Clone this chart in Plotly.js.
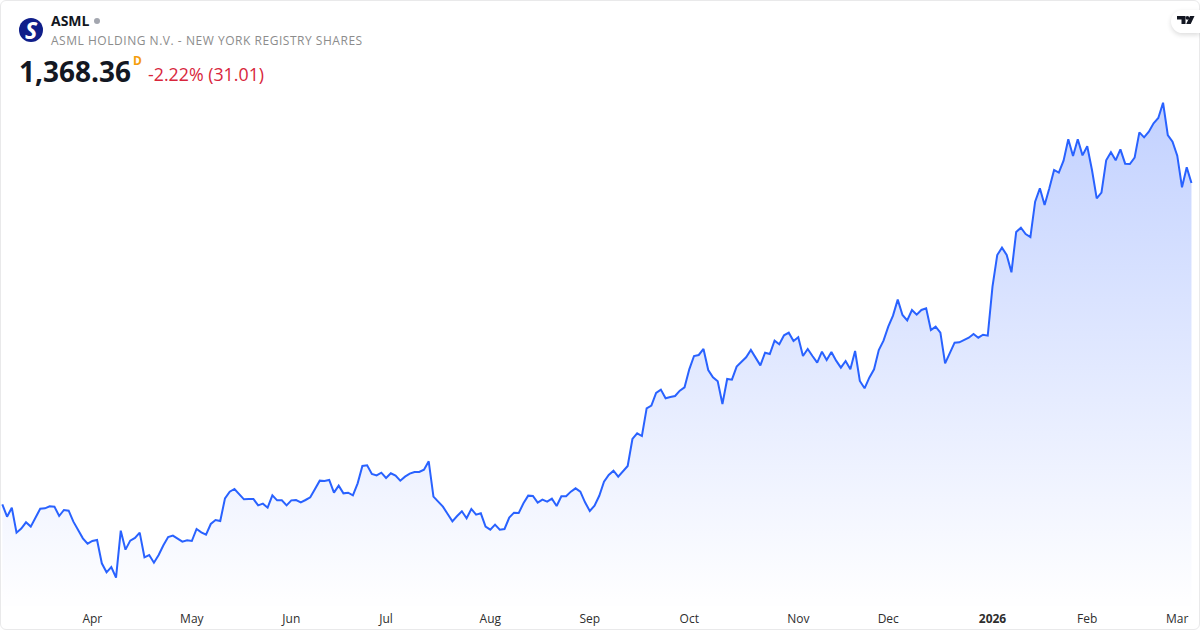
<!DOCTYPE html>
<html>
<head>
<meta charset="utf-8">
<script src="https://cdn.plot.ly/plotly-3.0.1.min.js"></script>
<style>
html,body{margin:0;padding:0;background:#fff;width:1200px;height:630px;overflow:hidden}
#card{position:absolute;left:0;top:0;width:1198px;height:628px;border:1px solid #e9e9ea;border-radius:6px}
#chart{position:absolute;left:0;top:0;width:1200px;height:630px}
#pill{position:absolute;left:1171px;top:10px;width:29px;height:23px;background:#fff;border-radius:12px 0 0 12px;box-shadow:0 2px 5px rgba(0,0,0,.14)}
#tv{position:absolute;left:0;top:0;pointer-events:none}
.annotation[data-index="2"] text{letter-spacing:.53px}
</style>
</head>
<body>
<div id="card"></div>
<div id="chart"></div>
<div id="pill"></div>
<svg id="tv" width="1200" height="630">
<path d="M1177 16h8.5v8h-4v-4.5h-4.5z M1190 16h4.5l-3.8 8h-4.5z" fill="#131722"/>
<circle cx="1187.4" cy="17.8" r="1.9" fill="#131722"/>
</svg>
<script>
var prices = [
732.1,707.7,725.5,676,684,696.5,688,706.4,723.5,724.2,728.2,727.5,709,720.9,719.6,697.8,681.3,664.8,654.2,659.5,
661.5,615.3,597.5,608,586.9,680,642.4,660.2,665.5,676,627.2,631.8,616.6,631.8,650.9,667.4,670.1,664.8,658.2,660.8,
659.5,683.3,676.7,672,693.2,701.1,699.1,744,757.2,762.5,751.9,742,742.7,742.7,730.1,733.4,725.5,750,740,740,
730.1,740,740.7,
736.1,740.7,746,762.5,779,778.3,780.3,755.2,769,753.9,755.2,749.9,773.7,808,809.3,792.2,789.5,794.8,784.3,793.5,
788.9,779,786.9,792.8,796.1,796.1,800.8,817.3,747.3,737.4,727.5,713,698.5,709,718.3,704.4,722.9,711.7,714.3,687.9,
682,691.9,682,683.3,705.7,715.6,715,734.1,749.3,748.6,735.4,741.4,737.4,743.3,728.8,748,748,757.2,763.8,757.2,
736.1,718.9,729.5,749,
777,790.2,798.8,786.9,796.8,808,861.5,872.7,867.4,922.2,927.5,952.6,959.2,942,944.6,946.6,957.2,963.8,999.4,1025.8,
1027.8,1039.7,998.1,983.6,975.7,930.8,980.3,979,1004.7,1014.6,1023.2,1037.7,1022.5,1007.3,1032.4,1029.8,1056.2,1048.9,1066.7,1072,
1055.5,1062.8,1025.8,1039.7,1025.8,1012.6,1034.4,1017.9,1033.7,1016.6,1002.7,1015.9,999.4,1035.7,976.3,961.8,982.9,999.4,1037.7,
1056.2,1083.9,1105.7,1137.4,1107,1096.4,1116.9,1107.7,1116.9,1120.2,1077.3,1083.9,1072,1011.3,1031.1,1052.2,1052.9,1058.2,1062.1,1069.4,
1062.1,1068,1066.1,1163.1,1225.8,1240.3,1225.8,1191.5,1271.3,1279.9,1267.4,1261.4,1331.4,1357.8,1324.8,1357.8,1394.1,1388.8,1412.6,1454.8,
1421.8,1454.8,1423.1,1441,1394.1,1338,1349.2,1413.2,1429.1,1413.2,1435,1406.6,1406,1418.5,1468.7,1458.8,1470,1486.5,1497,1527.4,
1463.4,1450.2,1422.5,1359.8,1399.37,1368.36
];
var tickIndex = [19,40,61,81,103,124,145,168,187,209,229,248];
var tickLabels = ['Apr','May','Jun','Jul','Aug','Sep','Oct','Nov','Dec','<b>2026</b>','Feb','Mar'];
var sessions = prices.map(function(_, i){ return i; });

var H = 606;
function px(x){ return x/1200; }
function py(y){ return 1 - y/H; }
var font = 'Open Sans, sans-serif';
function label(text, x, y, size, color, anchor){
  return {text:text, xref:'paper', yref:'paper', x:px(x), y:py(y), xanchor:anchor||'left', yanchor:'middle',
    showarrow:false, align:'left', font:{family:font, size:size, color:color}, borderpad:0};
}

var trace = {
  x:sessions, y:prices, type:'scatter', mode:'lines',
  line:{color:'#2962ff', width:2, shape:'linear'},
  fill:'tozeroy',
  fillgradient:{type:'vertical', start:1532, stop:543,
    colorscale:[[0,'#c2d1ff'],[1,'#feFEff']]},
  hoverinfo:'none'
};
var layout = {
  width:1200, height:630,
  margin:{l:0, r:0, t:0, b:24, pad:0},
  paper_bgcolor:'rgba(0,0,0,0)', plot_bgcolor:'rgba(0,0,0,0)',
  showlegend:false,
  xaxis:{range:[-0.49,252.8], tickmode:'array', tickvals:tickIndex, ticktext:tickLabels,
    showgrid:false, zeroline:false, showline:false, ticks:'', ticklabelstandoff:4,
    tickfont:{family:font, size:12, color:'#2e2e2e'}},
  yaxis:{range:[530.8,1730.7], visible:false, showgrid:false, zeroline:false},
  shapes:[
    {type:'circle', xref:'paper', yref:'paper', x0:px(19), x1:px(43), y0:py(42), y1:py(18), fillcolor:'#0f1e8a', line:{width:0}},
    {type:'circle', xref:'paper', yref:'paper', x0:px(94), x1:px(100), y0:py(24), y1:py(18), fillcolor:'#a3a6af', line:{width:0}}
  ],
  annotations:[
    label('<b><i>S</i></b>', 31, 30, 23, '#ffffff', 'center'),
    label('<b>ASML</b>', 50, 20.6, 14, '#131722'),
    label('ASML HOLDING N.V. - NEW YORK REGISTRY SHARES', 50, 40, 12, '#8c8c8c'),
    label('<b>1,368.36</b>', 18, 70.6, 28, '#131722'),
    label('<b>D</b>', 132, 61, 12, '#f59d0c'),
    label('-2.22% (31.01)', 147, 74, 17.8, '#d8263c')
  ]
};
Plotly.newPlot('chart',[trace],layout,{staticPlot:true,displayModeBar:false});
</script>
</body>
</html>
